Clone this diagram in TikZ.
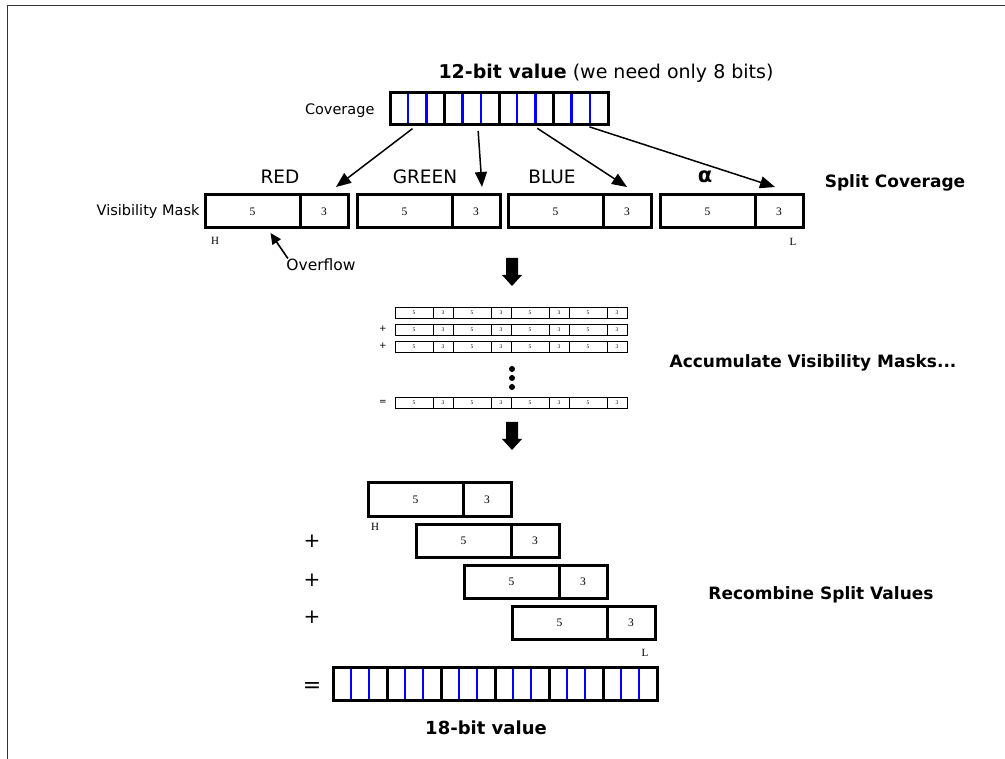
\documentclass[tikz,border=0pt]{standalone}
\usepackage{fontspec}
\setmainfont{DejaVu Sans}
\newfontfamily\digitfont{Liberation Serif}
\usetikzlibrary{arrows.meta,positioning,calc}

\begin{document}
\begin{tikzpicture}[x=1pt,y=-1pt,
		fivebox/.style={draw, line width=3pt, minimum width=95pt, minimum height=33pt, inner sep=0pt, outer sep=0pt, font=\digitfont\fontsize{11.5}{11.5}\selectfont},
		threebox/.style={fivebox, minimum width=48pt},
		covbox/.style={draw, line width=3pt, minimum width=54.5pt, minimum height=32pt, inner sep=0pt, outer sep=0pt, anchor=north west},
		minifive/.style={draw, line width=0.8pt, minimum width=38pt, minimum height=11pt, inner sep=0pt, outer sep=0pt, font=\digitfont\fontsize{5.5}{5.5}\selectfont},
		minithree/.style={minifive, minimum width=20pt},
		bitline/.style={blue, line width=2.5pt, shorten <=1.5pt, shorten >=1.5pt},
		arr/.style={line width=1.5pt, -{Triangle[length=15pt,width=12pt]}},
		caption/.style={font=\bfseries\fontsize{17}{20}\selectfont},
		hl/.style={font=\digitfont\fontsize{11}{11}\selectfont}
	]
	\useasboundingbox (0,0) rectangle (1005,759);
	\draw[line width=0.8pt, black!80] (7,759) -- (7,5) -- (1005,5);

	\node[font=\fontsize{19}{22}\selectfont] (title) at (606,73) {\textbf{12-bit value} (we need only 8 bits)};
	\node[anchor=east, font=\fontsize{14.5}{16}\selectfont] (covlabel) at (378,111) {Coverage};

	\foreach \k in {1,...,4}
		\node[covbox] (c\k) at ({390+54.5*(\k-1)},93) {};
	\foreach \k in {1,...,4}
		\foreach \f in {1/3,2/3}
			\draw[bitline] ($(c\k.north west)!\f!(c\k.north east)$) -- ($(c\k.south west)!\f!(c\k.south east)$);

	\node[fivebox, anchor=north west] (r5) at (205,195) {5};
	\node[threebox, right=0pt of r5] (r3) {3};
	\node[fivebox, anchor=north west] (g5) at (357,195) {5};
	\node[threebox, right=0pt of g5] (g3) {3};
	\node[fivebox, anchor=north west] (b5) at (508,195) {5};
	\node[threebox, right=0pt of b5] (b3) {3};
	\node[fivebox, anchor=north west] (a5) at (660,195) {5};
	\node[threebox, right=0pt of a5] (a3) {3};

	\node[font=\fontsize{18.5}{20}\selectfont] (red) at (280,177) {RED};
	\node[font=\fontsize{18.5}{20}\selectfont] (green) at (425,177) {GREEN};
	\node[font=\fontsize{18.5}{20}\selectfont] (blue) at (552,177) {BLUE};
	\node[font=\bfseries\fontsize{21}{21}\selectfont] (alpha) at (705,177) {α};

	\node[anchor=east, font=\fontsize{14.5}{16}\selectfont] (vislabel) at (203,212) {Visibility Mask};
	\node[hl] (hr) at (215,241) {H};
	\node[hl] (lr) at (793,242) {L};
	\node[font=\fontsize{15.5}{18}\selectfont] (overflow) at (321,265) {Overflow};
	\node[caption] (split) at (895,183) {Split Coverage};

	\draw[arr, shorten <=6pt] (c1.south) -- ([xshift=12pt,yshift=8pt]r3.north);
	\draw[arr, shorten <=6pt] ([xshift=6pt]c2.south) -- ([xshift=6pt,yshift=8pt]g3.north);
	\draw[arr, shorten <=6pt] ([xshift=6pt]c3.south) -- ([yshift=8pt]b3.north);
	\draw[arr, shorten <=6pt] ([xshift=3pt]c4.south) -- ([xshift=-4pt,yshift=8pt]a3.north);
	\draw[line width=1.6pt, -{Triangle[length=11pt,width=10pt]}] ([xshift=5pt,yshift=-3pt]overflow.north west) -- ([xshift=18pt,yshift=-5pt]r5.south);

	\fill (506,258) -- (518,258) -- (518,275) -- (522,275) -- (512,286) -- (502,275) -- (506,275) -- cycle;

	\foreach \r/\y in {1/307,2/324,3/341,4/397}
		\foreach \k in {0,...,3}{
			\node[minifive, anchor=north west] (m\r\k) at ({395+58*\k},\y) {5};
			\node[minithree, right=0pt of m\r\k] (n\r\k) {3};
		}
	\node[font=\fontsize{9}{9}\selectfont] (plusa) at (383,329) {+};
	\node[font=\fontsize{9}{9}\selectfont] (plusb) at (383,346) {+};
	\node[font=\fontsize{9}{9}\selectfont] (eqa) at (383,402) {=};
	\foreach \y in {369,378,387}
		\fill (512,\y) circle (3pt);
	\node[caption] (accum) at (813,363) {Accumulate Visibility Masks...};

	\fill (506,422) -- (518,422) -- (518,439) -- (522,439) -- (512,450) -- (502,439) -- (506,439) -- cycle;

	\node[fivebox, anchor=north west] (hi1) at (368,483) {5};
	\node[threebox, right=0pt of hi1] (lo1) {3};
	\node[fivebox, anchor=north west] (hi2) at (416,524) {5};
	\node[threebox, right=0pt of hi2] (lo2) {3};
	\node[fivebox, anchor=north west] (hi3) at (464,565) {5};
	\node[threebox, right=0pt of hi3] (lo3) {3};
	\node[fivebox, anchor=north west] (hi4) at (512,606) {5};
	\node[threebox, right=0pt of hi4] (lo4) {3};

	\node[hl] (hb) at (375,527) {H};
	\node[hl] (lb) at (645,653) {L};
	\node[font=\fontsize{20}{20}\selectfont] (plus1) at (312,541) {+};
	\node[font=\fontsize{20}{20}\selectfont] (plus2) at (312,580) {+};
	\node[font=\fontsize{20}{20}\selectfont] (plus3) at (312,617) {+};
	\node[font=\fontsize{22}{22}\selectfont] (eqb) at (312,688) {=};
	\node[caption] (recomb) at (821,595) {Recombine Split Values};

	\foreach \k in {1,...,6}
		\node[covbox, minimum width=54pt, minimum height=33pt] (s\k) at ({333+54*(\k-1)},667) {};
	\foreach \k in {1,...,6}
		\foreach \f in {1/3,2/3}
			\draw[bitline] ($(s\k.north west)!\f!(s\k.north east)$) -- ($(s\k.south west)!\f!(s\k.south east)$);
	\node[caption, font=\bfseries\fontsize{18}{20}\selectfont] (result) at (486,728) {18-bit value};
\end{tikzpicture}
\end{document}
